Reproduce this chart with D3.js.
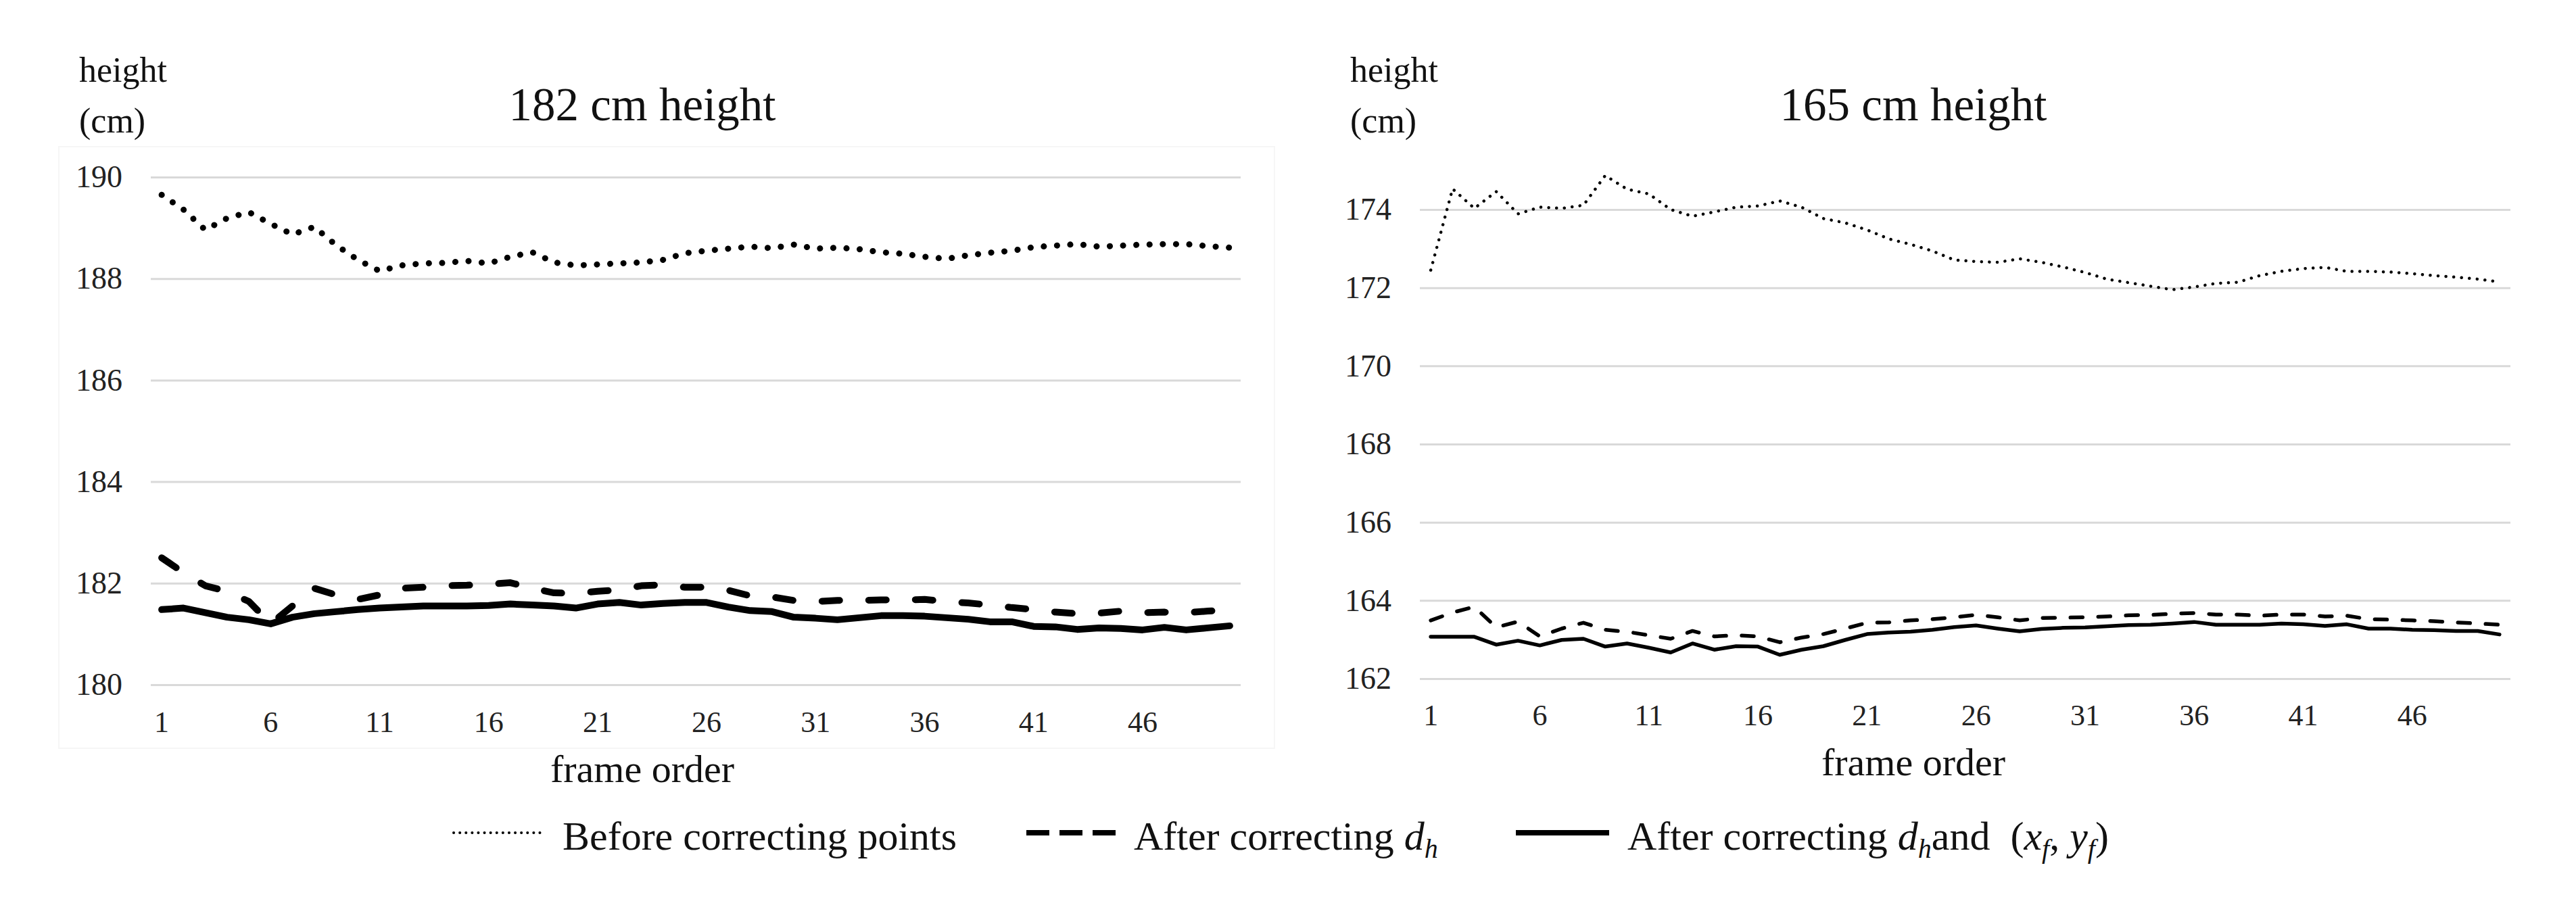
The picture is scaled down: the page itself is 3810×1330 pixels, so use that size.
<!DOCTYPE html>
<html lang="en">
<head>
<meta charset="UTF-8">
<title>Height correction by frame</title>
<style>
  body { margin: 0; background: #fff; }
  svg { display: block; font-family: 'Liberation Serif', 'Times New Roman', serif; }
</style>
</head>
<body>
<svg id="chart" width="3810" height="1330"></svg>
<script src="https://d3js.org/d3.v7.min.js"></script>
<script>
// frame numbers on the category axis
const frames = d3.range(1, 51);
const frameTicks = [1, 6, 11, 16, 21, 26, 31, 36, 41, 46];

// 182 cm subject
const tall_before = [189.65, 189.36, 188.96, 189.19, 189.31, 189.08, 188.87, 189.02, 188.66, 188.37,
  188.15, 188.26, 188.30, 188.31, 188.35, 188.30, 188.43, 188.52, 188.32, 188.26,
  188.28, 188.30, 188.32, 188.37, 188.50, 188.55, 188.59, 188.63, 188.60, 188.67,
  188.59, 188.61, 188.58, 188.52, 188.49, 188.43, 188.39, 188.46, 188.51, 188.55,
  188.62, 188.65, 188.68, 188.63, 188.65, 188.67, 188.68, 188.68, 188.64, 188.61];
const tall_dh = [182.50, 182.21, 181.95, 181.84, 181.64, 181.20, 181.55, 181.90, 181.77, 181.68,
  181.77, 181.90, 181.92, 181.95, 181.96, 181.98, 182.01, 181.90, 181.81, 181.80,
  181.84, 181.87, 181.95, 181.97, 181.92, 181.92, 181.86, 181.75, 181.73, 181.66,
  181.64, 181.66, 181.66, 181.67, 181.67, 181.68, 181.64, 181.61, 181.57, 181.52,
  181.48, 181.43, 181.40, 181.41, 181.45, 181.42, 181.43, 181.42, 181.45, 181.48];
const tall_dhxy = [181.48, 181.51, 181.42, 181.33, 181.28, 181.20, 181.33, 181.40, 181.44, 181.48,
  181.51, 181.53, 181.55, 181.55, 181.55, 181.56, 181.59, 181.57, 181.55, 181.51,
  181.59, 181.62, 181.57, 181.60, 181.62, 181.62, 181.53, 181.46, 181.44, 181.33,
  181.31, 181.28, 181.32, 181.36, 181.36, 181.35, 181.32, 181.29, 181.24, 181.24,
  181.15, 181.14, 181.09, 181.12, 181.11, 181.08, 181.13, 181.08, 181.12, 181.16];
const tall_yticks = [180, 182, 184, 186, 188, 190];

// 165 cm subject
const short_before = [172.45, 174.53, 174.03, 174.46, 173.89, 174.06, 174.03, 174.11, 174.87, 174.52,
  174.40, 174.00, 173.83, 173.94, 174.06, 174.09, 174.22, 174.06, 173.77, 173.66,
  173.48, 173.25, 173.11, 172.94, 172.71, 172.67, 172.65, 172.74, 172.65, 172.53,
  172.39, 172.22, 172.13, 172.04, 171.95, 172.02, 172.11, 172.14, 172.31, 172.42,
  172.49, 172.52, 172.42, 172.42, 172.40, 172.36, 172.31, 172.27, 172.22, 172.15];
const short_dh = [163.49, 163.69, 163.84, 163.31, 163.46, 163.08, 163.28, 163.43, 163.25, 163.20,
  163.11, 163.02, 163.22, 163.08, 163.11, 163.08, 162.93, 163.05, 163.14, 163.28,
  163.43, 163.44, 163.49, 163.52, 163.57, 163.63, 163.57, 163.49, 163.55, 163.56,
  163.57, 163.59, 163.62, 163.63, 163.66, 163.68, 163.64, 163.64, 163.61, 163.64,
  163.64, 163.59, 163.61, 163.52, 163.51, 163.49, 163.47, 163.44, 163.41, 163.38];
const short_dhxy = [163.07, 163.07, 163.07, 162.87, 162.97, 162.85, 162.99, 163.02, 162.82, 162.90,
  162.79, 162.67, 162.90, 162.74, 162.83, 162.82, 162.61, 162.74, 162.83, 162.99,
  163.14, 163.18, 163.20, 163.25, 163.32, 163.36, 163.28, 163.21, 163.27, 163.30,
  163.31, 163.34, 163.37, 163.38, 163.41, 163.45, 163.38, 163.38, 163.38, 163.41,
  163.39, 163.35, 163.39, 163.28, 163.28, 163.25, 163.24, 163.22, 163.22, 163.13];
const short_yticks = [162, 164, 166, 168, 170, 172, 174];

const svg = d3.select('#chart');

// barely visible chart-area frame of the left panel
svg.append('rect').attr('x', 87).attr('y', 217).attr('width', 1798).attr('height', 890)
  .attr('fill', 'none').attr('stroke', '#f6f6f6').attr('stroke-width', 2);

function drawPanel(opt) {
  const g = svg.append('g');
  const x = d3.scalePoint().domain(frames).range([opt.x0, opt.x1]).padding(0.5);
  const y = d3.scaleLinear().domain(opt.domain).range(opt.range);

  // gridlines + y labels
  const yAxis = g.append('g')
    .attr('transform', `translate(${opt.x0},0)`)
    .call(d3.axisLeft(y).tickValues(opt.yticks).tickSize(-(opt.x1 - opt.x0)).tickPadding(42).tickFormat(d3.format('d')));
  yAxis.select('.domain').remove();
  yAxis.selectAll('line').attr('stroke', '#d9d9d9').attr('stroke-width', 3);
  yAxis.selectAll('text').attr('font-size', 46).attr('fill', '#222')
    .attr('font-family', "'Liberation Serif', serif");

  // x labels
  g.selectAll('.xlab').data(frameTicks).enter().append('text')
    .attr('x', d => x(d)).attr('y', opt.xLabY)
    .attr('text-anchor', 'middle').attr('font-size', 44).attr('fill', '#222')
    .text(d => d);

  // series
  const line = d3.line().x((d, i) => x(frames[i])).y(d => y(d));
  opt.series.forEach(s => {
    g.append('path').datum(s.values)
      .attr('d', line)
      .attr('fill', 'none').attr('stroke', '#000')
      .attr('stroke-width', s.width)
      .attr('stroke-linecap', s.cap || 'butt')
      .attr('stroke-linejoin', 'round')
      .attr('stroke-dasharray', s.dash || null);
  });

  // titles
  g.append('text').attr('x', opt.titleX).attr('y', 178).attr('text-anchor', 'middle')
    .attr('font-size', 69).attr('fill', '#111').text(opt.title);
  g.append('text').attr('x', opt.labX).attr('y', 121).attr('font-size', 52).attr('fill', '#111').text('height');
  g.append('text').attr('x', opt.labX).attr('y', 196).attr('font-size', 52).attr('fill', '#111').text('(cm)');
  g.append('text').attr('x', opt.titleX).attr('y', opt.frameY).attr('text-anchor', 'middle')
    .attr('font-size', 58).attr('fill', '#111').text('frame order');
}

drawPanel({
  x0: 223, x1: 1835, domain: [180, 190], range: [1013, 262], yticks: tall_yticks,
  xLabY: 1083, title: '182 cm height', titleX: 950, labX: 117, frameY: 1157,
  series: [
    { values: tall_before, width: 9, cap: 'round', dash: '0.1 19.5' },
    { values: tall_dh, width: 10, cap: 'round', dash: '26 43' },
    { values: tall_dhxy, width: 10, cap: 'round' }
  ]
});

drawPanel({
  x0: 2100, x1: 3713, domain: [162, 174], range: [1004, 310], yticks: short_yticks,
  xLabY: 1073, title: '165 cm height', titleX: 2830, labX: 1997, frameY: 1147,
  series: [
    { values: short_before, width: 4.5, cap: 'round', dash: '0.1 11.5' },
    { values: short_dh, width: 5.5, cap: 'round', dash: '18 23' },
    { values: short_dhxy, width: 5.5, cap: 'round' }
  ]
});

// legend
const leg = svg.append('g').attr('font-size', 60).attr('fill', '#111');
const legY = 1232, legBase = 1257;
leg.append('line').attr('x1', 671).attr('x2', 801).attr('y1', legY).attr('y2', legY)
  .attr('stroke', '#000').attr('stroke-width', 4).attr('stroke-linecap', 'round').attr('stroke-dasharray', '0.1 9');
leg.append('text').attr('x', 832).attr('y', legBase).text('Before correcting points');

leg.append('line').attr('x1', 1518).attr('x2', 1650).attr('y1', legY).attr('y2', legY)
  .attr('stroke', '#000').attr('stroke-width', 8).attr('stroke-dasharray', '34 15');
const t2 = leg.append('text').attr('x', 1677).attr('y', legBase);
t2.append('tspan').text('After correcting ');
t2.append('tspan').attr('font-style', 'italic').text('d');
t2.append('tspan').attr('font-style', 'italic').attr('font-size', 40).attr('dy', 12).text('h');

leg.append('line').attr('x1', 2242).attr('x2', 2380).attr('y1', legY).attr('y2', legY)
  .attr('stroke', '#000').attr('stroke-width', 8);
const t3 = leg.append('text').attr('x', 2407).attr('y', legBase);
t3.append('tspan').text('After correcting ');
t3.append('tspan').attr('font-style', 'italic').text('d');
t3.append('tspan').attr('font-style', 'italic').attr('font-size', 40).attr('dy', 12).text('h');
t3.append('tspan').attr('dy', -12).text('and');
t3.append('tspan').attr('dx', 30).text('(');
t3.append('tspan').attr('font-style', 'italic').text('x');
t3.append('tspan').attr('font-style', 'italic').attr('font-size', 40).attr('dy', 12).text('f');
t3.append('tspan').attr('dy', -12).text(', ');
t3.append('tspan').attr('font-style', 'italic').text('y');
t3.append('tspan').attr('font-style', 'italic').attr('font-size', 40).attr('dy', 12).text('f');
t3.append('tspan').attr('dy', -12).text(')');
</script>
</body>
</html>
